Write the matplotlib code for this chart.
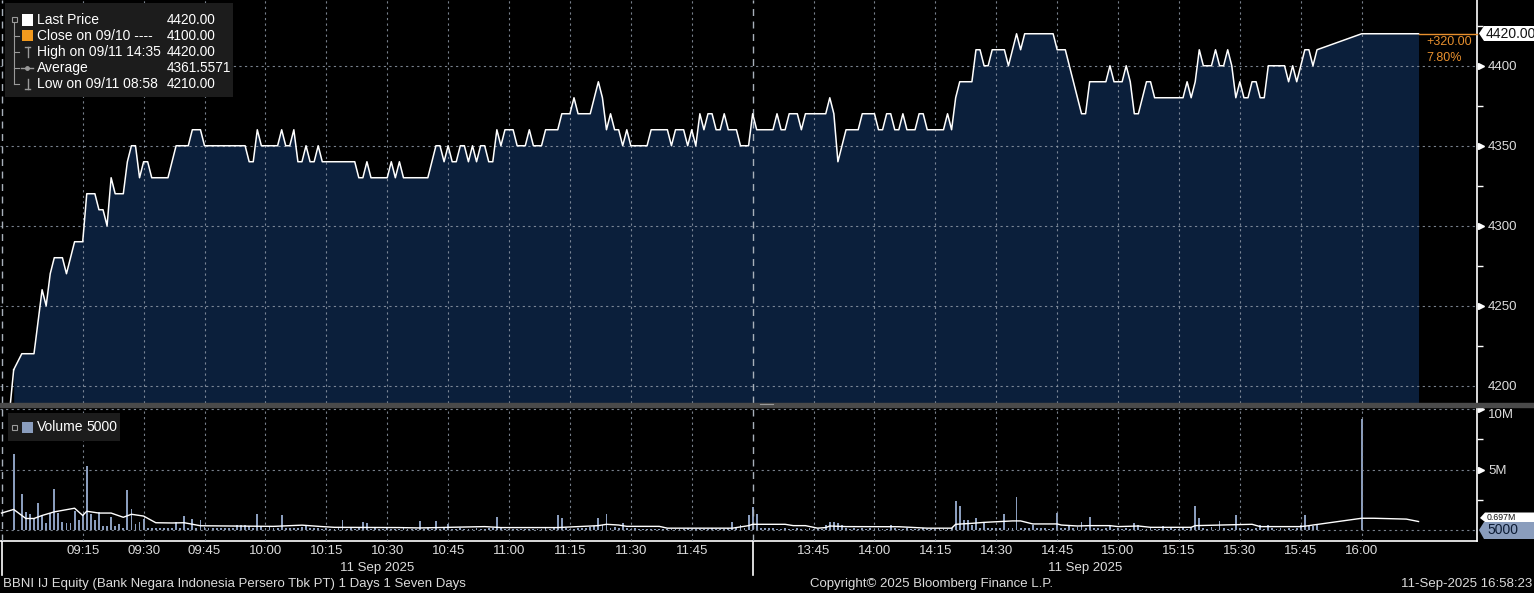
"""Bloomberg style intraday chart: BBNI IJ Equity, 11 Sep 2025 (price + volume)."""

import matplotlib.pyplot as plt
from matplotlib.patches import Rectangle, Polygon
from matplotlib.lines import Line2D
from matplotlib.transforms import offset_copy, blended_transform_factory

W, H, DPI = 1534, 593, 100

BG = "black"
FILL = "#0b1f3b"
GRID = "#8e98a6"
ORANGE = "#e8902e"
VOL_BLUE = "#8a9dbd"
TEXT = "#dcdcdc"
ICON = "#9a9a9a"

plt.rcParams.update({
    "font.family": ["Liberation Sans", "DejaVu Sans"],
    "font.size": 9,
})

# ---------------------------------------------------------------- data
PRICE_TIMES = [
    "08:58", "09:00", "09:03", "09:05", "09:06", "09:07", "09:08", "09:10", "09:11", "09:13",
    "09:15", "09:16", "09:18", "09:19", "09:20", "09:21", "09:22", "09:23", "09:25", "09:26",
    "09:27", "09:28", "09:29", "09:30", "09:31", "09:32", "09:36", "09:38", "09:41", "09:42",
    "09:44", "09:45", "09:55", "09:56", "09:57", "09:58", "09:59", "10:03", "10:04", "10:05",
    "10:06", "10:07", "10:08", "10:09", "10:10", "10:11", "10:12", "10:13", "10:14", "10:22",
    "10:23", "10:24", "10:25", "10:26", "10:30", "10:31", "10:32", "10:33", "10:34", "10:40",
    "10:42", "10:43", "10:44", "10:45", "10:46", "10:47", "10:48", "10:49", "10:50", "10:51",
    "10:52", "10:53", "10:54", "10:55", "10:56", "10:57", "10:58", "10:59", "11:01", "11:02",
    "11:04", "11:05", "11:06", "11:08", "11:09", "11:12", "11:13", "11:15", "11:16", "11:17",
    "11:20", "11:22", "11:23", "11:24", "11:25", "11:26", "11:27", "11:28", "11:29", "11:30",
    "11:34", "11:35", "11:39", "11:40", "11:41", "11:43", "11:44", "11:45", "11:46", "11:47",
    "11:48", "11:49", "11:50", "11:51", "11:52", "11:53", "11:54", "11:56", "11:57", "11:59",
    "13:30", "13:31", "13:35", "13:36", "13:37", "13:38", "13:39", "13:41", "13:42", "13:43",
    "13:48", "13:49", "13:50", "13:51", "13:53", "13:56", "13:57", "14:00", "14:01", "14:02",
    "14:03", "14:04", "14:05", "14:06", "14:07", "14:08", "14:10", "14:11", "14:12", "14:13",
    "14:17", "14:18", "14:19", "14:20", "14:21", "14:24", "14:25", "14:26", "14:27", "14:28",
    "14:29", "14:32", "14:33", "14:35", "14:36", "14:37", "14:44", "14:45", "14:47", "14:49",
    "14:51", "14:52", "14:53", "14:57", "14:58", "14:59", "15:01", "15:02", "15:03", "15:04",
    "15:05", "15:07", "15:08", "15:09", "15:16", "15:17", "15:18", "15:19", "15:20", "15:21",
    "15:23", "15:24", "15:25", "15:26", "15:27", "15:28", "15:29", "15:30", "15:31", "15:32",
    "15:33", "15:34", "15:35", "15:36", "15:37", "15:41", "15:42", "15:43", "15:44", "15:45",
    "15:46", "15:47", "15:48", "15:49", "16:00", "16:14",
]
PRICE_VALUES = [
    4210, 4220, 4220, 4260, 4250, 4270, 4280, 4280, 4270, 4290,
    4290, 4320, 4320, 4310, 4310, 4300, 4330, 4320, 4320, 4340,
    4350, 4350, 4330, 4340, 4340, 4330, 4330, 4350, 4350, 4360,
    4360, 4350, 4350, 4340, 4340, 4360, 4350, 4350, 4360, 4350,
    4350, 4360, 4340, 4340, 4350, 4340, 4340, 4350, 4340, 4340,
    4330, 4330, 4340, 4330, 4330, 4340, 4330, 4340, 4330, 4330,
    4350, 4350, 4340, 4350, 4340, 4340, 4350, 4350, 4340, 4350,
    4340, 4350, 4350, 4340, 4340, 4360, 4350, 4360, 4360, 4350,
    4350, 4360, 4350, 4350, 4360, 4360, 4370, 4370, 4380, 4370,
    4370, 4390, 4380, 4360, 4370, 4360, 4360, 4350, 4360, 4350,
    4350, 4360, 4360, 4350, 4360, 4360, 4350, 4360, 4350, 4370,
    4360, 4370, 4370, 4360, 4360, 4370, 4360, 4360, 4350, 4350,
    4370, 4360, 4360, 4370, 4360, 4360, 4370, 4370, 4360, 4370,
    4370, 4380, 4370, 4340, 4360, 4360, 4370, 4370, 4360, 4360,
    4370, 4370, 4360, 4360, 4370, 4360, 4360, 4370, 4370, 4360,
    4360, 4370, 4360, 4380, 4390, 4390, 4410, 4410, 4400, 4400,
    4410, 4410, 4400, 4420, 4410, 4420, 4420, 4410, 4410, 4390,
    4370, 4370, 4390, 4390, 4400, 4390, 4390, 4400, 4390, 4370,
    4370, 4390, 4390, 4380, 4380, 4390, 4380, 4390, 4410, 4400,
    4400, 4410, 4400, 4400, 4410, 4400, 4380, 4390, 4380, 4380,
    4390, 4390, 4380, 4380, 4400, 4400, 4390, 4400, 4390, 4400,
    4410, 4410, 4400, 4410, 4420, 4420,
]

# volume, one value per minute (millions of shares)
VOLUME_AM_START = "08:58"
VOLUME_AM = [
    6.3, 0.0,                                                       # 08:58
    3.0, 1.5, 1.3, 1.0, 2.2, 1.2, 0.55, 1.4, 3.4, 1.4,              # 09:00
    0.7, 0.6, 0.6, 1.6, 0.8, 1.2, 5.3, 1.3, 0.8, 1.5,               # 09:10
    0.3, 0.3, 1.1, 0.3, 0.5, 0.2, 3.3, 1.7, 0.5, 0.7,               # 09:20
    0.9, 0.2, 0.15, 0.2, 0.15, 0.2, 0.15, 0.2, 0.7, 0.15,           # 09:30
    1.15, 0.2, 0.9, 0.2, 0.8, 0.25, 0.2, 0.2, 0.15, 0.15,           # 09:40
    0.2, 0.15, 0.2, 0.4, 0.4, 0.45, 0.3, 0.2, 1.3, 0.3,             # 09:50
    0.2, 0.25, 0.15, 0.2, 1.2, 0.2, 0.15, 0.15, 0.2, 0.25,          # 10:00
    0.3, 0.2, 0.15, 0.15, 0.1, 0.15, 0.1, 0.1, 0.15, 0.8,           # 10:10
    0.1, 0.15, 0.1, 0.15, 0.7, 0.55, 0.1, 0.15, 0.1, 0.1,           # 10:20
    0.15, 0.1, 0.1, 0.1, 0.15, 0.1, 0.1, 0.1, 0.75, 0.1,            # 10:30
    0.15, 0.1, 0.75, 0.1, 0.15, 0.5, 0.1, 0.1, 0.15, 0.1,           # 10:40
    0.1, 0.1, 0.15, 0.1, 0.1, 0.15, 0.2, 1.1, 0.15, 0.1,            # 10:50
    0.1, 0.1, 0.1, 0.1, 0.1, 0.1, 0.1, 0.1, 0.1, 0.15,              # 11:00
    0.1, 0.15, 1.2, 1.0, 0.15, 0.1, 0.1, 0.15, 0.2, 0.2,            # 11:10
    0.25, 0.3, 1.0, 0.4, 1.3, 0.2, 0.25, 0.2, 0.55, 0.15,           # 11:20
    0.1, 0.15, 0.1, 0.1, 0.1, 0.1, 0.1, 0.1, 0.1, 0.1,              # 11:30
    0.1, 0.1, 0.1, 0.1, 0.15, 0.1, 0.1, 0.1, 0.1, 0.1,              # 11:40
    0.15, 0.1, 0.1, 0.1, 0.15, 0.65, 0.15, 0.4, 0.2, 1.25,          # 11:50
]
VOLUME_PM_START = "13:30"
VOLUME_PM = [
    1.9, 1.3, 0.2, 0.15, 0.2, 0.15, 0.1, 0.1, 0.15, 0.1,            # 13:30
    0.1, 0.15, 0.1, 0.1, 0.15, 0.1, 0.1, 0.1, 0.4, 0.65,            # 13:40
    0.65, 0.55, 0.45, 0.15, 0.1, 0.15, 0.1, 0.15, 0.1, 0.15,        # 13:50
    0.1, 0.15, 0.1, 0.1, 0.4, 0.15, 0.1, 0.1, 0.15, 0.1,            # 14:00
    0.1, 0.1, 0.15, 0.1, 0.1, 0.1, 0.15, 0.1, 0.1, 0.15,            # 14:10
    2.4, 2.0, 0.8, 0.8, 0.4, 1.0, 0.2, 0.7, 0.2, 0.15,              # 14:20
    0.2, 0.15, 1.3, 0.2, 0.15, 2.7, 0.2, 0.15, 0.2, 0.4,            # 14:30
    0.15, 0.2, 0.15, 0.1, 0.15, 1.4, 0.2, 0.15, 0.4, 0.2,           # 14:40
    0.25, 0.65, 0.2, 1.1, 0.2, 0.15, 0.1, 0.15, 0.35, 0.1,          # 14:50
    0.15, 0.1, 0.15, 0.1, 0.55, 0.45, 0.1, 0.1, 0.15, 0.1,          # 15:00
    0.1, 0.3, 0.1, 0.15, 0.1, 0.1, 0.15, 0.1, 0.15, 2.0,            # 15:10
    1.0, 0.15, 0.1, 0.25, 0.1, 0.75, 0.15, 0.1, 0.15, 1.25,         # 15:20
    0.15, 0.1, 0.15, 0.1, 0.15, 0.45, 0.1, 0.4, 0.15, 0.1,          # 15:30
    0.15, 0.1, 0.15, 0.1, 0.15, 0.45, 1.25, 0.4, 0.3, 0.4,          # 15:40
    0.0, 0.0, 0.0, 0.0, 0.0, 0.0, 0.0, 0.0, 0.0, 0.0,               # 15:50
    9.2,                                                            # 16:00
]

# white moving-average line of the volume panel, millions
VOL_AVG_TIMES = [
    "08:55", "08:58", "09:01", "09:03", "09:05", "09:08", "09:13", "09:15", "09:16", "09:19",
    "09:22", "09:25", "09:27", "09:30", "09:33", "09:37", "09:40", "09:44", "10:02", "10:09",
    "10:14", "10:17", "10:33", "10:38", "10:54", "10:58", "11:12", "11:22", "11:24", "11:27",
    "11:29", "11:37", "11:39", "11:55", "11:59", "13:30", "13:38", "13:40", "13:43", "13:46",
    "13:48", "13:49", "13:53", "14:06", "14:13", "14:19", "14:20", "14:24", "14:27", "14:34",
    "14:36", "14:39", "14:45", "14:46", "14:50", "14:53", "14:58", "15:00", "15:05", "15:08",
    "15:18", "15:19", "15:33", "15:35", "15:45", "15:47", "15:48", "16:00", "16:03", "16:11",
    "16:14",
]
VOL_AVG_M = [
    1.4, 1.7, 0.95, 0.95, 1.2, 1.5, 1.8, 1.2, 1.55, 1.4,
    1.4, 1.05, 1.3, 1.15, 0.6, 0.58, 0.6, 0.35, 0.3, 0.4,
    0.28, 0.22, 0.2, 0.17, 0.28, 0.2, 0.2, 0.36, 0.47, 0.41,
    0.3, 0.3, 0.15, 0.15, 0.36, 0.47, 0.47, 0.36, 0.36, 0.15,
    0.2, 0.33, 0.28, 0.27, 0.15, 0.15, 0.47, 0.55, 0.63, 0.75,
    0.75, 0.5, 0.5, 0.41, 0.33, 0.36, 0.36, 0.28, 0.33, 0.22,
    0.22, 0.36, 0.47, 0.28, 0.28, 0.36, 0.41, 0.97, 0.97, 0.9,
    0.7,
]

TIME_TICKS = ["09:15", "09:30", "09:45", "10:00", "10:15", "10:30", "10:45", "11:00",
              "11:15", "11:30", "11:45", "13:45", "14:00", "14:15", "14:30", "14:45",
              "15:00", "15:15", "15:30", "15:45", "16:00"]
SESSION_MARKS = ["08:55", "12:00"]
SESSIONS = [("08:55", "12:00"), ("13:30", "16:14")]
PRICE_TICKS = [4200, 4250, 4300, 4350, 4400]
PRICE_MINOR = [4225, 4275, 4325, 4375, 4425]
VOL_TICKS = [5, 10]
VOL_TICK_LABELS = ["5M", "10M"]
VOL_MINOR = [2.5, 7.5]

LAST_PRICE = 4420.00
PREV_CLOSE = 4100.00
CHANGE = LAST_PRICE - PREV_CLOSE
LAST_VOLUME = 5000
LAST_AVG_LABEL = "0.697M"

LEGEND_ROWS = [
    ("Last Price", "4420.00"),
    ("Close on 09/10 ----", "4100.00"),
    ("High on 09/11 14:35", "4420.00"),
    ("Average", "4361.5571"),
    ("Low on 09/11 08:58", "4210.00"),
]


def tpos(hhmm):
    """Minutes after 09:00 with the 12:00-13:30 lunch break cut out."""
    h, m = map(int, hhmm.split(":"))
    minutes = h * 60 + m - 9 * 60
    return minutes - 90 if minutes >= 270 else minutes


def minute_series(start, values):
    base = tpos(start)
    return [base + i for i in range(len(values))]


def fig_rect(x0, y0, x1, y1):
    return [x0 / W, 1 - y1 / H, (x1 - x0) / W, (y1 - y0) / H]


def P(x, y):
    """Pixel (top-left origin) -> figure fraction."""
    return x / W, 1 - y / H


X_LIM = (-5.37, 358.4)
P_LIM = (4189.2, 4441.1)
V_LIM = (-0.91, 10.25)

fig = plt.figure(figsize=(W / DPI, H / DPI), dpi=DPI, facecolor=BG)
ax_p = fig.add_axes(fig_rect(0, 0, 1477, 403), facecolor=BG)
ax_v = fig.add_axes(fig_rect(0, 406, 1477, 541), facecolor=BG)

grid_kw = dict(color=GRID, linestyle=(0, (2, 3)), linewidth=0.8, alpha=0.85)
tick_pos = [tpos(t) for t in TIME_TICKS]

# --- price panel ---
pt = [tpos(t) for t in PRICE_TIMES]
ax_p.fill_between(pt, PRICE_VALUES, P_LIM[0], color=FILL, linewidth=0, zorder=1)
ax_p.plot(pt, PRICE_VALUES, color="white", linewidth=1.1, zorder=3)
ax_p.plot([pt[0] - 0.8, pt[0]], [P_LIM[0], PRICE_VALUES[0]], color="white", linewidth=1.1,
          zorder=3)
ax_p.plot([pt[-1], X_LIM[1]], [LAST_PRICE, LAST_PRICE], color=ORANGE, linewidth=1.0,
          zorder=3, clip_on=False)

ax_p.set_xlim(*X_LIM)
ax_p.set_ylim(*P_LIM)
ax_p.set_xticks(tick_pos)
ax_p.set_yticks(PRICE_TICKS)
ax_p.set_yticks(PRICE_MINOR, minor=True)
ax_p.set_axisbelow(False)
ax_p.grid(True, which="major", **grid_kw)
ax_p.yaxis.tick_right()
ax_p.tick_params(axis="x", length=0, labelbottom=False)
ax_p.tick_params(axis="y", which="major", length=0, pad=8, labelcolor=TEXT, labelsize=9.5)
ax_p.tick_params(axis="y", which="minor", length=4, width=1, color="white", direction="out")
for side in ("top", "left", "bottom"):
    ax_p.spines[side].set_visible(False)
ax_p.spines["right"].set_color("white")
ax_p.spines["right"].set_linewidth(1.2)

tri = offset_copy(ax_p.get_yaxis_transform(), fig=fig, x=4, units="dots")
ax_p.plot([1] * len(PRICE_TICKS[1:]), PRICE_TICKS[1:], ls="", marker=">", ms=5,
          color="white", transform=tri, clip_on=False)

# --- volume panel ---
for start, values in ((VOLUME_AM_START, VOLUME_AM), (VOLUME_PM_START, VOLUME_PM)):
    ax_v.bar(minute_series(start, values), values, width=0.45, color=VOL_BLUE,
             linewidth=0, zorder=2)
ax_v.plot([tpos(t) for t in VOL_AVG_TIMES], VOL_AVG_M, color="white", linewidth=1.0, zorder=3)
ax_v.axhline(LAST_VOLUME / 1e6, **grid_kw)

ax_v.set_xlim(*X_LIM)
ax_v.set_ylim(*V_LIM)
ax_v.set_xticks(tick_pos, TIME_TICKS)
ax_v.set_yticks(VOL_TICKS, VOL_TICK_LABELS)
ax_v.set_yticks(VOL_MINOR, minor=True)
ax_v.set_axisbelow(False)
ax_v.grid(True, which="major", **grid_kw)
ax_v.yaxis.tick_right()
ax_v.tick_params(axis="x", length=0, pad=3, labelcolor=TEXT, labelsize=9.5)
ax_v.tick_params(axis="y", which="major", length=0, pad=8, labelcolor=TEXT, labelsize=9.5)
ax_v.tick_params(axis="y", which="minor", length=4, width=1, color="white", direction="out")
ax_v.get_yticklabels()[-1].set_va("top")    # top label sits below its tick
for side in ("top", "left"):
    ax_v.spines[side].set_visible(False)
for side in ("right", "bottom"):
    ax_v.spines[side].set_color("white")
    ax_v.spines[side].set_linewidth(1.2)

tri_v = offset_copy(ax_v.get_yaxis_transform(), fig=fig, x=4, units="dots")
ax_v.plot([1] * len(VOL_TICKS), VOL_TICKS, ls="", marker=">", ms=5,
          color="white", transform=tri_v, clip_on=False)

# session separators (dashed through both panels, solid below the axis)
for ax in (ax_p, ax_v):
    for s in SESSION_MARKS:
        ax.axvline(tpos(s), color="#a8b0ba", linestyle=(0, (5, 4)), linewidth=1.0, zorder=2.6)
bt = blended_transform_factory(ax_v.transData, ax_v.transAxes)
for s in SESSION_MARKS:
    ax_v.add_line(Line2D([tpos(s)] * 2, [0, -0.25], transform=bt, color="white",
                         linewidth=1.2, clip_on=False))

for start, end in SESSIONS:
    mid = (tpos(start) + tpos(end)) / 2
    ax_v.text(mid, -0.2, "11 Sep 2025", transform=bt, ha="center", va="center",
              color=TEXT, fontsize=9.5, clip_on=False)

# grey divider between the panels
fig.patches.append(Rectangle(P(0, 406.5), 1, 3.5 / H, transform=fig.transFigure,
                             color="#4a4a4a", zorder=5))
fig.add_artist(Line2D([P(760, 0)[0], P(773, 0)[0]], [P(0, 404.3)[1]] * 2,
                      transform=fig.transFigure, color="#9a9a9a", linewidth=0.8, zorder=6))

# --- right-hand value flags ---
flag = Polygon([P(1479, 33.5), P(1484, 26), P(1534, 26), P(1534, 41), P(1484, 41)],
               closed=True, transform=fig.transFigure, facecolor="white", edgecolor="none",
               zorder=10)
fig.patches.append(flag)
fig.text(*P(1486, 33.5), f"{LAST_PRICE:.2f}", color="#111111", fontsize=10, va="center",
         zorder=11)
fig.text(*P(1426, 42), f"+{CHANGE:.2f}", color=ORANGE, fontsize=9, va="center")
fig.text(*P(1426, 58), f"{CHANGE / PREV_CLOSE * 100:.2f}%", color=ORANGE, fontsize=9,
         va="center")

avg_flag = Polygon([P(1480, 518), P(1485, 512.5), P(1534, 512.5), P(1534, 522), P(1485, 522)],
                   closed=True, transform=fig.transFigure, facecolor="white",
                   edgecolor="none", zorder=10)
fig.patches.append(avg_flag)
fig.text(*P(1487, 517.2), LAST_AVG_LABEL, color="#111111", fontsize=6.3, va="center",
         zorder=11)
vol_flag = Polygon([P(1479, 530), P(1484, 522), P(1534, 522), P(1534, 539), P(1484, 539)],
                   closed=True, transform=fig.transFigure, facecolor=VOL_BLUE,
                   edgecolor="none", zorder=12)
fig.patches.append(vol_flag)
fig.text(*P(1487, 530.5), f"{LAST_VOLUME}", color="#0c1b33", fontsize=10, va="center",
         zorder=13)

# --- price legend ---
fig.patches.append(Rectangle(P(5, 97), 228 / W, 94 / H, transform=fig.transFigure,
                             facecolor="#1c1c1c", edgecolor="none", zorder=8))
rows_y = [19.5, 35.5, 52, 68, 84]
for (label, value), y in zip(LEGEND_ROWS, rows_y):
    fig.text(*P(37, y), label, color="white", fontsize=10, va="center", zorder=9)
    fig.text(*P(167, y), value, color="white", fontsize=9.8, va="center", zorder=9)
    if y > rows_y[0]:
        fig.add_artist(Line2D([P(14, 0)[0], P(19, 0)[0]], [P(0, y)[1]] * 2,
                              transform=fig.transFigure, color=ICON, lw=0.8, zorder=9))
fig.add_artist(Line2D([P(14, 0)[0]] * 2, [P(0, 22)[1], P(0, rows_y[-1])[1]],
                      transform=fig.transFigure, color=ICON, lw=0.8, zorder=9))
fig.patches.append(Rectangle(P(11.5, 21.5), 5 / W, 5 / H, transform=fig.transFigure,
                             facecolor="#1c1c1c", edgecolor=ICON, lw=0.8, zorder=9))
fig.patches.append(Rectangle(P(21.5, 25.5), 11 / W, 11 / H, transform=fig.transFigure,
                             facecolor="white", edgecolor="none", zorder=9))
fig.patches.append(Rectangle(P(21.5, 41), 11 / W, 11 / H, transform=fig.transFigure,
                             facecolor="#f39a1e", edgecolor="none", zorder=9))
for xs, ys in [
    ([27.5, 27.5], [47, 57]), ([25, 30], [47, 47]),          # high marker
    ([21, 33], [68, 68]),                                     # average marker
    ([27.5, 27.5], [79, 89]), ([25, 30], [89, 89]),          # low marker
]:
    fig.add_artist(Line2D([P(x, 0)[0] for x in xs], [P(0, y)[1] for y in ys],
                          transform=fig.transFigure, color=ICON, lw=1.0, zorder=9))
fig.add_artist(Line2D([P(27, 0)[0]], [P(0, 68)[1]], transform=fig.transFigure, marker="o",
                      ms=2.5, color=ICON, zorder=9))

# --- volume legend ---
fig.patches.append(Rectangle(P(8, 441), 112 / W, 28 / H, transform=fig.transFigure,
                             facecolor="#1c1c1c", edgecolor="none", zorder=8))
fig.patches.append(Rectangle(P(11.5, 429.5), 5 / W, 5 / H, transform=fig.transFigure,
                             facecolor="#1c1c1c", edgecolor=ICON, lw=0.8, zorder=9))
fig.patches.append(Rectangle(P(21.5, 432.5), 11 / W, 11 / H, transform=fig.transFigure,
                             facecolor=VOL_BLUE, edgecolor="none", zorder=9))
fig.text(*P(37, 427), "Volume", color="white", fontsize=10, va="center", zorder=9)
fig.text(*P(86, 427), f"{LAST_VOLUME}", color="white", fontsize=10, va="center", zorder=9)

# --- footer ---
fig.text(*P(3, 584), "BBNI IJ Equity (Bank Negara Indonesia Persero Tbk PT) 1 Days 1 Seven Days",
         color=TEXT, fontsize=9.5, va="center")
fig.text(*P(932, 584), "Copyright\u00a9 2025 Bloomberg Finance L.P.", color=TEXT, fontsize=9.5,
         va="center", ha="center")
fig.text(*P(1532, 584), "11-Sep-2025 16:58:23", color=TEXT, fontsize=9.5, va="center",
         ha="right")

fig.savefig("out.png", dpi=DPI, facecolor=BG)
